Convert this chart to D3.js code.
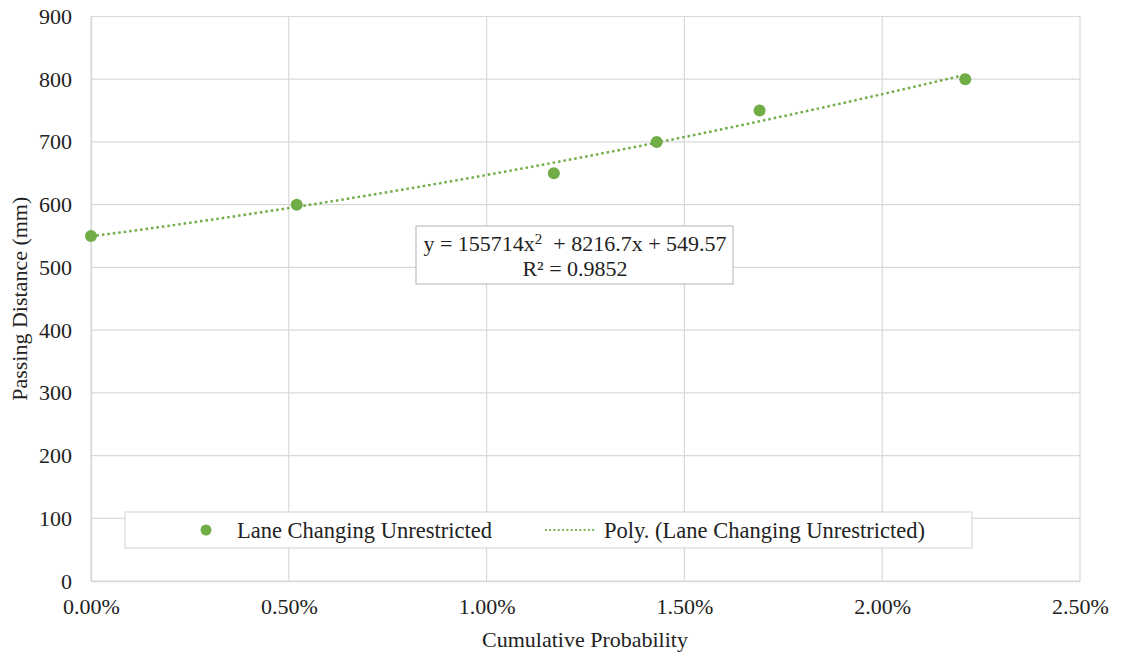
<!DOCTYPE html>
<html><head><meta charset="utf-8">
<script src="https://cdn.jsdelivr.net/npm/d3@7"></script>
<style>body{margin:0;background:#fff}svg text{font-family:"Liberation Serif","Times New Roman",serif;fill:#222}</style>
</head><body>
<svg id="c" width="1122" height="653"></svg>
<script>
const xVals = [0.0, 0.0052, 0.0117, 0.0143, 0.0169, 0.0221];
const yVals = [550, 600, 650, 700, 750, 800];
const xTicks = [0, 0.005, 0.01, 0.015, 0.02, 0.025];
const yTicks = [0, 100, 200, 300, 400, 500, 600, 700, 800, 900];
const coef = [549.57, 8216.7, 155714];
const seriesName = "Lane Changing Unrestricted";
const trendName = "Poly. (Lane Changing Unrestricted)";
const r2Text = "R² = 0.9852";

const svg = d3.select("#c");
const m = {l:91, r:1080, t:16.5, b:581};
const x = d3.scaleLinear().domain([0,0.025]).range([m.l,m.r]);
const y = d3.scaleLinear().domain([0,900]).range([m.b,m.t]);
const green = "#70AD47";
const fs = 22;
const ff = '"Liberation Serif","Times New Roman",serif';

// grid
svg.append("g").selectAll("line").data(yTicks).join("line")
  .attr("x1",m.l).attr("x2",m.r).attr("y1",d=>y(d)).attr("y2",d=>y(d))
  .attr("stroke","#d9d9d9").attr("stroke-width",1.2);
svg.append("g").selectAll("line").data(xTicks).join("line")
  .attr("y1",m.t).attr("y2",m.b).attr("x1",d=>x(d)).attr("x2",d=>x(d))
  .attr("stroke","#d9d9d9").attr("stroke-width",1.2);

// axes
const xa = svg.append("g").attr("transform",`translate(0,${m.b})`)
  .call(d3.axisBottom(x).tickValues(xTicks).tickFormat(d3.format(".2%")).tickSize(0).tickPadding(17));
xa.select(".domain").attr("stroke","#d9d9d9").attr("stroke-width",1.5);
xa.selectAll("text").style("font-size",fs+"px").style("font-family",ff);
const ya = svg.append("g").attr("transform",`translate(${m.l},0)`)
  .call(d3.axisLeft(y).tickValues(yTicks).tickSize(0).tickPadding(19));
ya.select(".domain").attr("stroke","#d9d9d9").attr("stroke-width",1.2);
ya.selectAll("text").style("font-size",fs+"px").style("font-family",ff);

// trendline
const tx = d3.range(0, 301).map(i => xVals[0] + (xVals[xVals.length-1]-xVals[0])*i/300);
const line = d3.line().x(d=>x(d)).y(d=>y(coef[0]+coef[1]*d+coef[2]*d*d));
svg.append("path").datum(tx).attr("d",line).attr("fill","none")
  .attr("stroke",green).attr("stroke-width",2.5).attr("stroke-dasharray","2.5,3");

// points
svg.append("g").selectAll("circle").data(xVals).join("circle")
  .attr("cx",d=>x(d)).attr("cy",(d,i)=>y(yVals[i])).attr("r",6).attr("fill",green);

// equation box
svg.append("rect").attr("x",416).attr("y",226).attr("width",317).attr("height",58)
  .attr("fill","#fff").attr("stroke","#bfbfbf").attr("stroke-width",1.2);
const eq = svg.append("text").attr("x",575).attr("y",251).attr("text-anchor","middle").style("font-size",fs+"px").style("font-family",ff);
eq.append("tspan").text("y = 155714x");
eq.append("tspan").attr("dy",-7).style("font-size","15px").text("2");
eq.append("tspan").attr("dy",7).text("  + 8216.7x + 549.57").attr("xml:space","preserve");
svg.append("text").attr("x",575).attr("y",276).attr("text-anchor","middle").style("font-size",fs+"px").style("font-family",ff).text(r2Text);

// legend
svg.append("rect").attr("x",125).attr("y",512).attr("width",847).attr("height",36)
  .attr("fill","#fff").attr("stroke","#d9d9d9").attr("stroke-width",1.2);
svg.append("circle").attr("cx",206).attr("cy",530).attr("r",5.5).attr("fill",green);
svg.append("text").attr("x",237).attr("y",537.5).style("font-size","22.5px").style("font-family",ff).text(seriesName);
svg.append("line").attr("x1",545).attr("x2",595).attr("y1",530).attr("y2",530)
  .attr("stroke",green).attr("stroke-width",1.8).attr("stroke-dasharray","1.8,2.5");
svg.append("text").attr("x",604).attr("y",537.5).style("font-size","22.5px").style("font-family",ff).text(trendName);

// axis titles
svg.append("text").attr("x",585).attr("y",647).attr("text-anchor","middle").style("font-size",fs+"px").style("font-family",ff).text("Cumulative Probability");
svg.append("text").attr("transform",`translate(27,${(m.t+m.b)/2}) rotate(-90)`).attr("text-anchor","middle").style("font-size",fs+"px").style("font-family",ff).text("Passing Distance (mm)");
</script>
</body></html>
